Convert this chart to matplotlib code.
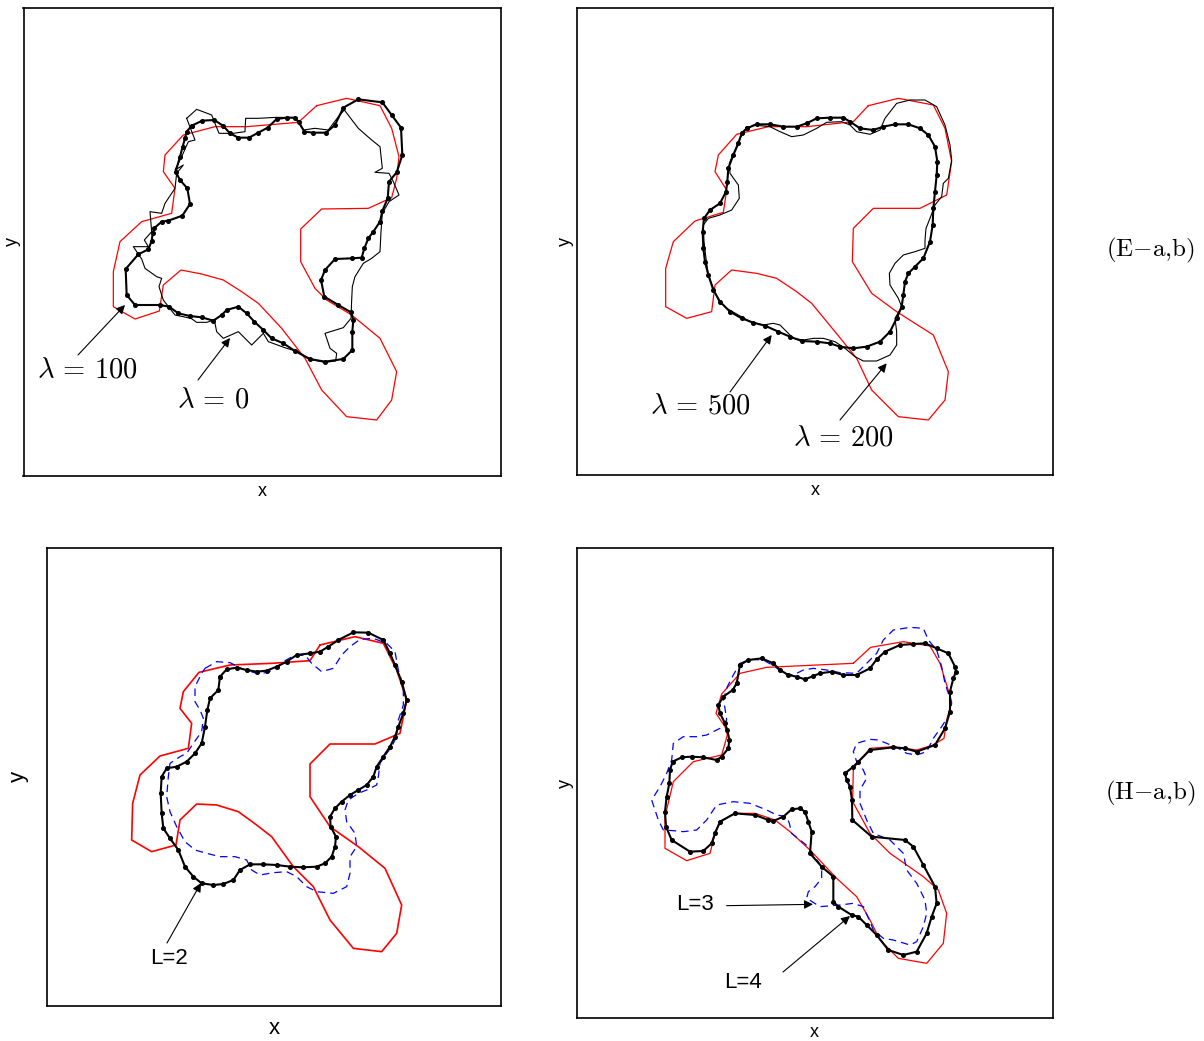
import numpy as np
import matplotlib
matplotlib.use("Agg")
import matplotlib.pyplot as plt

plt.rcParams['mathtext.fontset'] = 'cm'
plt.rcParams['font.family'] = ['Liberation Sans', 'DejaVu Sans']

# All curves are read off the picture, in a local frame for each panel
# (pixels of a 3x enlargement, y growing downwards).

# panels E-a and E-b share the same red target contour
red_e_a = [(665,62),(755,40),(855,62),(890,130),(912,215),(905,280),(890,338),(820,370),
           (680,372),(617,432),(617,530),(660,610),(695,645),(770,690),(855,760),(905,860),
           (890,945),(845,1005),(755,995),(680,915),(630,820),(560,730),(490,655),(440,620),
           (385,585),(320,567),(258,555),(205,600),(193,678),(120,702),(55,665),(55,560),
           (75,470),(140,410),(230,385),(240,310),(205,260),(210,210),(265,150),(360,125),
           (455,125),(610,112),(665,62)]

lam100 = [(290,122),(322,107),(358,105),(385,123),(405,145),(430,158),(462,158),(490,143),
          (518,128),(545,102),(575,98),(600,98),(612,112),(628,140),(655,143),(693,143),
          (720,120),(745,68),(790,43),(862,52),(890,90),(918,128),(922,210),(905,262),
          (882,290),(878,340),(862,378),(855,410),(835,440),(820,460),(808,490),(800,518),
          (770,520),(720,522),(690,555),(678,585),(688,635),(730,660),(768,682),(775,705),
          (772,740),(772,795),(745,822),(690,830),(645,822),(600,798),(565,775),(530,760),
          (505,735),(478,710),(455,685),(430,665),(395,675),(380,690),(355,707),(320,697),
          (285,693),(250,685),(222,665),(195,660),(120,660),(95,630),(92,552),(130,508),
          (160,493),(170,468),(173,445),(177,430),(200,410),(220,407),(262,392),(285,357),
          (277,310),(255,285),(242,260),(255,215),(263,185),(270,160),(275,140),(290,122)]

lam0 = [(275,100),(305,73),(350,90),(372,145),(415,145),(450,140),(452,100),(488,100),
        (545,97),(600,98),(625,135),(660,130),(700,135),(730,95),(748,75),(790,130),
        (830,165),(855,185),(862,250),(840,262),(882,265),(895,290),(912,330),(882,350),
        (862,385),(858,440),(855,500),(830,520),(805,535),(780,575),(772,605),(770,645),
        (768,700),(745,728),(690,745),(705,790),(725,805),(722,828),(690,832),(640,822),
        (610,800),(575,790),(520,770),(505,745),(470,780),(430,740),(385,760),(365,740),
        (358,705),(335,712),(305,712),(288,700),(240,690),(218,662),(205,645),(192,605),
        (200,580),(185,575),(150,550),(140,522),(115,485),(160,485),(148,465),(170,440),
        (165,380),(200,385),(210,355),(240,310),(245,265),(265,240),(240,255),(260,215),
        (280,170),(300,165),(275,100)]

red_e_b = [(655,62),(745,40),(850,60),(885,130),(905,230),(890,330),(810,370),(670,370),
           (610,430),(607,530),(665,625),(740,680),(850,750),(895,860),(885,945),(835,1005),
           (745,995),(665,915),(620,820),(555,740),(485,655),(440,620),(380,580),(320,565),
           (245,555),(195,600),(185,680),(110,700),(47,665),(47,550),(70,470),(135,408),
           (220,382),(230,315),(195,260),(205,210),(260,148),(355,125),(470,125),(610,110),
           (655,62)]

lam500 = [(290,130),(320,118),(360,118),(400,125),(440,125),(470,115),(500,100),(540,98),
          (580,98),(600,110),(630,130),(670,135),(700,125),(735,118),(775,118),(810,130),
          (835,150),(855,185),(862,230),(860,270),(855,320),(850,370),(848,420),(840,470),
          (820,520),(795,545),(775,565),(765,590),(760,630),(755,665),(740,700),(720,740),
          (690,770),(650,785),(610,790),(570,785),(540,775),(500,770),(455,768),(420,755),
          (385,740),(345,722),(310,713),(275,700),(240,680),(210,650),(190,615),(175,570),
          (165,530),(160,490),(158,440),(162,400),(180,375),(210,355),(228,320),(232,290),
          (235,250),(250,210),(265,175),(275,145),(290,130)]

lam200 = [(285,135),(310,120),(360,125),(390,140),(425,155),(460,150),(500,130),(530,112),
          (575,110),(600,120),(620,140),(660,148),(690,135),(705,100),(740,55),(780,45),
          (825,45),(860,65),(885,120),(900,180),(905,225),(895,280),(880,295),(875,335),
          (855,360),(840,400),(828,430),(825,465),(825,490),(795,500),(760,510),(735,535),
          (718,565),(720,600),(745,640),(755,665),(735,700),(740,740),(740,780),(720,810),
          (680,828),(640,828),(615,815),(585,790),(555,770),(520,760),(490,760),(460,765),
          (430,760),(410,740),(390,720),(370,715),(340,720),(300,710),(265,690),(230,670),
          (205,645),(190,610),(175,570),(168,520),(162,470),(160,420),(175,400),(210,390),
          (245,375),(268,340),(265,300),(240,265),(238,235),(255,195),(270,160),(285,135)]

red_h_a = [(600,75),(705,50),(790,70),(830,150),(860,240),(840,340),(765,372),(630,372),
           (570,432),(570,530),(630,620),(715,680),(795,745),(845,855),(830,940),(785,995),
           (700,985),(630,900),(580,800),(520,740),(455,650),(410,615),(355,575),(290,555),
           (230,552),(180,600),(168,675),(95,695),(35,660),(38,550),(60,465),(120,408),
           (205,385),(215,310),(180,265),(190,215),(237,157),(330,135),(455,130),(570,122),
           (600,75)]

l2_fit = [(300,170),(320,148),(350,143),(380,150),(410,155),(440,152),(470,140),(500,125),
          (530,105),(570,100),(600,95),(625,80),(655,60),(700,37),(745,38),(790,60),
          (810,100),(825,135),(845,185),(860,240),(850,280),(835,320),(825,350),(810,380),
          (790,410),(770,440),(760,470),(740,495),(715,510),(690,525),(665,545),(645,565),
          (630,590),(632,620),(648,650),(645,680),(635,710),(615,730),(590,740),(550,742),
          (510,740),(470,735),(430,733),(390,733),(360,750),(340,780),(310,792),(280,795),
          (245,790),(220,770),(195,740),(175,690),(150,655),(130,625),(125,580),(122,520),
          (125,470),(140,445),(170,440),(200,425),(225,400),(245,370),(255,320),(262,270),
          (270,235),(295,210),(300,170)]

blue_h_a = [(255,145),(290,125),(330,128),(370,148),(410,160),(440,158),(470,145),(490,125),
            (520,108),(555,105),(575,130),(605,155),(640,145),(665,105),(690,80),(720,58),
            (760,55),(800,70),(825,95),(835,150),(850,200),(850,255),(835,300),(830,350),
            (815,380),(800,400),(780,430),(775,470),(770,495),(740,510),(715,520),(685,540),
            (675,570),(680,605),(705,640),(710,680),(690,710),(690,760),(680,800),(640,820),
            (590,815),(560,800),(530,770),(500,755),(460,758),(420,765),(395,750),(380,720),
            (345,710),(300,710),(260,700),(225,690),(195,665),(170,620),(150,575),(140,530),
            (145,470),(150,430),(180,410),(200,400),(220,370),(245,335),(250,295),(240,270),
            (225,245),(225,200),(245,160),(255,145)]

red_h_b = [(640,130),(692,82),(790,65),(870,78),(900,130),(920,195),(935,245),(920,300),
           (912,355),(880,375),(830,390),(760,380),(690,385),(640,445),(638,545),(690,640),
           (750,700),(850,770),(895,810),(920,880),(910,970),(860,1030),(775,1015),(720,960),
           (690,900),(650,830),(590,775),(510,690),(450,635),(405,600),(345,580),(285,580),
           (245,602),(228,630),(210,700),(140,722),(75,685),(75,590),(100,485),(160,425),
           (245,405),(262,345),(255,320),(228,280),(245,222),(300,160),(380,142),(640,130)]

l4_fit = [(300,135),(325,120),(365,115),(400,130),(420,150),(445,165),(470,170),(495,178),
          (520,168),(540,160),(575,155),(610,165),(650,165),(690,145),(710,118),(735,95),
          (780,75),(820,72),(855,70),(890,85),(925,100),(945,140),(948,155),(940,175),
          (930,215),(930,275),(915,325),(885,375),(830,395),(795,385),(760,382),(690,390),
          (655,425),(640,440),(615,460),(620,480),(630,500),(636,540),(637,600),(695,650),
          (795,660),(820,680),(850,735),(885,800),(890,850),(875,890),(860,940),(830,995),
          (790,1005),(745,990),(710,945),(680,915),(655,890),(635,885),(595,860),(580,845),
          (580,770),(545,740),(510,700),(515,635),(505,605),(495,575),(480,565),(455,568),
          (430,590),(400,603),(385,600),(345,585),(285,580),(240,605),(225,640),(215,670),
          (190,693),(150,695),(95,660),(78,620),(75,575),(80,530),(88,490),(90,450),
          (98,425),(125,412),(155,410),(190,412),(230,420),(245,410),(265,385),(268,360),
          (262,330),(255,310),(240,280),(235,255),(250,230),(278,210),(290,190),(300,135)]

l3_fit = [(300,130),(330,118),(370,120),(405,140),(430,160),(460,165),(490,150),(520,145),
          (560,150),(600,158),(650,160),(680,130),(710,100),(730,60),(760,30),(810,22),
          (850,25),(865,60),(890,90),(905,140),(915,190),(935,250),(930,280),(905,320),
          (880,355),(860,395),(830,405),(800,400),(775,385),(740,370),(715,360),(690,358),
          (650,370),(640,395),(650,425),(670,450),(680,475),(660,510),(660,550),(680,600),
          (700,640),(750,660),(790,700),(800,750),(830,790),(855,840),(860,880),(850,920),
          (830,965),(810,975),(760,960),(730,955),(700,930),(690,905),(670,860),(640,850),
          (600,855),(540,860),(500,835),(505,815),(525,800),(545,775),(545,740),(520,705),
          (505,680),(480,660),(455,640),(448,610),(440,590),(410,585),(380,570),(330,550),
          (280,545),(230,555),(200,600),(170,630),(130,635),(100,632),(70,630),(55,600),
          (35,540),(60,500),(80,460),(95,420),(100,370),(130,350),(170,350),(200,345),
          (240,325),(260,300),(255,265),(250,240),(262,200),(280,165),(300,130)]

W, H = 1204, 1041
fig = plt.figure(figsize=(W / 100, H / 100), dpi=100)


def panel(box, origin, lsize, xpad, ypad):
    l, t, r, b = box
    ox, oy = origin
    ax = fig.add_axes([l / W, 1 - b / H, (r - l) / W, (b - t) / H])
    ax.set_xlim((l - ox) * 3, (r - ox) * 3)
    ax.set_ylim((b - oy) * 3, (t - oy) * 3)
    ax.set_xticks([])
    ax.set_yticks([])
    for s in ax.spines.values():
        s.set_linewidth(1.2)
    ax.set_xlabel('x', fontsize=lsize, labelpad=xpad)
    ax.set_ylabel('y', fontsize=lsize, labelpad=ypad)
    return ax


def line(ax, pts, **kw):
    p = np.array(pts)
    ax.plot(p[:, 0], p[:, 1], **kw)


def arrow(ax, tail, head):
    ax.annotate('', xy=head, xytext=tail,
                arrowprops=dict(arrowstyle='-|>', color='black', lw=0.8,
                                mutation_scale=13, shrinkA=0, shrinkB=0))


red_kw = dict(color='#ff0000', lw=0.9)
fit_kw = dict(color='black', lw=1.5, marker='o', ms=2.6)
thin_kw = dict(color='black', lw=0.8)
blue_kw = dict(color='#0000ff', lw=0.9, dashes=(6, 4))

# (E-a)
ax1 = panel((23.5, 7.5, 501, 476), (95, 85), 13, 5, 2)
line(ax1, red_e_a, **red_kw)
line(ax1, lam0, **thin_kw)
line(ax1, lam100, **fit_kw)
arrow(ax1, (-51, 810), (90, 660))
arrow(ax1, (309, 885), (405, 759))
ax1.text(-24, 858, r'$\lambda\,=\,100$', fontsize=20.5, ha='center', va='center')
ax1.text(354, 948, r'$\lambda\,=\,0$', fontsize=20.5, ha='center', va='center')

# (E-b)
ax2 = panel((577, 8, 1053, 475), (650, 85), 13, 5, 2)
line(ax2, red_e_b, **red_kw)
line(ax2, lam200, **thin_kw)
line(ax2, lam500, **fit_kw)
arrow(ax2, (240, 921), (365, 750))
arrow(ax2, (570, 1005), (710, 835))
ax2.text(150, 963, r'$\lambda\,=\,500$', fontsize=20.5, ha='center', va='center')
ax2.text(579, 1059, r'$\lambda\,=\,200$', fontsize=20.5, ha='center', va='center')

# (H-a)
ax3 = panel((47, 548, 501, 1005.5), (120, 620), 16, 9, 13)
line(ax3, red_h_a, color='#ff0000', lw=1.2)
line(ax3, blue_h_a, **blue_kw)
line(ax3, l2_fit, **fit_kw)
arrow(ax3, (141, 969), (243, 789))
ax3.text(147, 1017, 'L=2', fontsize=16, ha='center', va='center')

# (H-b)
ax4 = panel((576.5, 548, 1053, 1018), (640, 620), 13, 4, 2)
line(ax4, red_h_b, **red_kw)
line(ax4, l3_fit, **blue_kw)
line(ax4, l4_fit, **fit_kw)
arrow(ax4, (260, 857), (519, 853))
arrow(ax4, (429, 1056), (630, 888))
ax4.text(165, 855, 'L=3', fontsize=16, ha='center', va='center')
ax4.text(309, 1089, 'L=4', fontsize=16, ha='center', va='center')

fig.text(1150 / W, 1 - 250 / H, r'$\mathrm{(E{-}a{,}b)}$', fontsize=18,
         ha='center', va='center')
fig.text(1150 / W, 1 - 793 / H, r'$\mathrm{(H{-}a{,}b)}$', fontsize=18,
         ha='center', va='center')

fig.savefig('out.png', dpi=100)
